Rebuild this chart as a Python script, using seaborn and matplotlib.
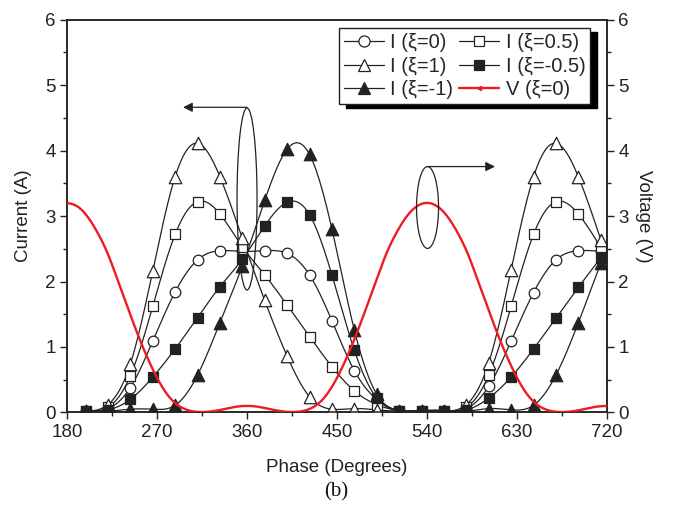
import numpy as np
import pandas as pd
import seaborn as sns
import matplotlib
matplotlib.use("Agg")
import matplotlib.pyplot as plt
from matplotlib.lines import Line2D
from matplotlib.patches import Ellipse
from matplotlib.ticker import MultipleLocator

# ---------------- data ----------------
phase = [198.5, 220.9, 243.3, 265.7, 288.1, 310.5, 332.9, 355.3, 377.7, 400.1,
         422.5, 444.9, 467.3, 489.7, 512.1, 534.5, 556.9, 579.3, 601.7, 624.1,
         646.5, 668.9, 691.3, 713.7]

i_xi_0 = [0.02, 0.06, 0.38, 1.09, 1.84, 2.33, 2.47, 2.46, 2.47, 2.43,
          2.10, 1.40, 0.64, 0.20, 0.03, 0.02, 0.02, 0.06, 0.40, 1.09,
          1.83, 2.33, 2.47, 2.46]
i_xi_05 = [0.02, 0.08, 0.56, 1.62, 2.72, 3.22, 3.03, 2.53, 2.10, 1.64,
           1.16, 0.70, 0.33, 0.12, 0.03, 0.02, 0.02, 0.08, 0.57, 1.62,
           2.72, 3.22, 3.03, 2.52]
i_xi_1 = [0.02, 0.12, 0.74, 2.16, 3.60, 4.11, 3.60, 2.66, 1.71, 0.86,
          0.24, 0.05, 0.06, 0.04, 0.02, 0.02, 0.02, 0.12, 0.76, 2.18,
          3.60, 4.11, 3.60, 2.64]
i_xi_m05 = [0.02, 0.04, 0.20, 0.54, 0.97, 1.45, 1.92, 2.34, 2.85, 3.21,
            3.02, 2.10, 0.95, 0.22, 0.03, 0.03, 0.03, 0.04, 0.22, 0.54,
            0.97, 1.44, 1.91, 2.36]
i_xi_m1 = [0.03, 0.02, 0.05, 0.05, 0.11, 0.57, 1.37, 2.24, 3.24, 4.02,
           3.94, 2.80, 1.26, 0.28, 0.03, 0.03, 0.03, 0.02, 0.06, 0.04,
           0.11, 0.57, 1.37, 2.28]

v_phase = list(range(180, 721, 10))
v_xi_0 = [3.20, 3.15, 3.00, 2.76, 2.45, 2.05, 1.63, 1.22, 0.85, 0.53,
          0.28, 0.12, 0.04, 0.01, 0.01, 0.03, 0.06, 0.09, 0.10,
          0.09, 0.06, 0.03, 0.01, 0.01, 0.04, 0.12, 0.28, 0.53, 0.85,
          1.22, 1.63, 2.05, 2.45, 2.76, 3.00, 3.15, 3.20,
          3.15, 3.00, 2.76, 2.45, 2.05, 1.63, 1.22, 0.85, 0.53, 0.28,
          0.12, 0.04, 0.01, 0.01, 0.03, 0.06, 0.09, 0.10]

x_ticks = [180, 270, 360, 450, 540, 630, 720]
y_ticks = [0, 1, 2, 3, 4, 5, 6]

labels = ["I (\u03be=0)", "I (\u03be=0.5)", "I (\u03be=1)", "I (\u03be=-0.5)",
          "I (\u03be=-1)", "V (\u03be=0)"]


def natural_spline(x, y, n_out=800):
    """Smooth connector through the data points (like Origin's spline line)."""
    x = np.asarray(x, float)
    y = np.asarray(y, float)
    n = len(x)
    h = np.diff(x)
    A = np.zeros((n, n))
    b = np.zeros(n)
    A[0, 0] = 1
    A[-1, -1] = 1
    for i in range(1, n - 1):
        A[i, i - 1] = h[i - 1]
        A[i, i] = 2 * (h[i - 1] + h[i])
        A[i, i + 1] = h[i]
        b[i] = 3 * ((y[i + 1] - y[i]) / h[i] - (y[i] - y[i - 1]) / h[i - 1])
    c = np.linalg.solve(A, b)
    bc = (y[1:] - y[:-1]) / h - h * (2 * c[:-1] + c[1:]) / 3
    d = (c[1:] - c[:-1]) / (3 * h)
    xs = np.linspace(x[0], x[-1], n_out)
    idx = np.clip(np.searchsorted(x, xs) - 1, 0, n - 2)
    dx = xs - x[idx]
    ys = y[idx] + bc[idx] * dx + c[idx] * dx ** 2 + d[idx] * dx ** 3
    return xs, ys


# ---------------- style ----------------
sns.set_theme(style="ticks")
plt.rcParams["font.family"] = ["Liberation Sans", "DejaVu Sans"]
plt.rcParams["axes.linewidth"] = 1.1
plt.rcParams["xtick.major.width"] = 1.0
plt.rcParams["ytick.major.width"] = 1.0
plt.rcParams["xtick.minor.width"] = 1.0
plt.rcParams["ytick.minor.width"] = 1.0
plt.rcParams["xtick.color"] = "#222222"
plt.rcParams["ytick.color"] = "#222222"

fig = plt.figure(figsize=(6.73, 5.14), dpi=100)
ax = fig.add_axes([0.0996, 0.1975, 0.8024, 0.7645])
ax2 = ax.twinx()

line_col = "#222222"
red = "#ed1c24"

series = [
    (i_xi_0, "o", "white", 58),
    (i_xi_05, "s", "white", 52),
    (i_xi_1, "^", "white", 80),
    (i_xi_m05, "s", line_col, 52),
    (i_xi_m1, "^", line_col, 80),
]

for vals, mk, fc, sz in series:
    xs, ys = natural_spline(phase, vals)
    sns.lineplot(x=xs, y=ys, ax=ax, color=line_col, lw=0.9, estimator=None,
                 sort=False, zorder=2)
    sns.scatterplot(x=phase, y=vals, ax=ax, marker=mk, s=sz, facecolor=fc,
                    edgecolor=line_col, linewidth=0.9, zorder=3)

vx, vy = natural_spline(v_phase, v_xi_0)
sns.lineplot(x=vx, y=vy, ax=ax2, color=red, lw=1.7,
             estimator=None, sort=False, zorder=4)

# ---------------- axes ----------------
for a in (ax, ax2):
    a.set_xlim(180, 720)
    a.set_ylim(0, 6)
    a.set_yticks(y_ticks)
    a.yaxis.set_minor_locator(MultipleLocator(0.5))
    a.tick_params(axis="y", which="major", direction="out", length=5,
                  labelsize=13.5, pad=3)
    a.tick_params(axis="y", which="minor", direction="out", length=3)
    for s in a.spines.values():
        s.set_color("#222222")
        s.set_visible(True)

ax.set_xticks(x_ticks)
ax.xaxis.set_minor_locator(MultipleLocator(45))
ax.tick_params(axis="x", which="major", direction="out", length=5,
               labelsize=13.5, pad=3)
ax.tick_params(axis="x", which="minor", direction="out", length=3)
ax.tick_params(axis="y", which="both", left=True, right=False)
ax2.tick_params(axis="y", which="both", left=False, right=True)

ax.set_xlabel("Phase (Degrees)", fontsize=13.5, labelpad=13, color="#222222")
ax.set_ylabel("Current (A)", fontsize=13.5, labelpad=10, color="#222222")
ax2.set_ylabel("Voltage (V)", fontsize=13.5, labelpad=17, rotation=-90,
               color="#222222")

# ---------------- annotations ----------------
ax2.add_patch(Ellipse((360, 3.26), 20, 2.78, fill=False, ec=line_col,
                      lw=0.9, zorder=5))
ax2.annotate("", xy=(296, 4.66), xytext=(360, 4.66),
             arrowprops=dict(arrowstyle="-|>", color=line_col, lw=0.9,
                             mutation_scale=14, shrinkA=0, shrinkB=0))
ax2.add_patch(Ellipse((540.5, 3.13), 22, 1.25, fill=False, ec=line_col,
                      lw=0.9, zorder=5))
ax2.annotate("", xy=(608, 3.755), xytext=(540.5, 3.755),
             arrowprops=dict(arrowstyle="-|>", color=line_col, lw=0.9,
                             mutation_scale=14, shrinkA=0, shrinkB=0))

# ---------------- legend ----------------
def h(mk, fc, ms):
    return Line2D([], [], color=line_col, lw=0.9, marker=mk, markersize=ms,
                  markerfacecolor=fc, markeredgecolor=line_col,
                  markeredgewidth=0.9)

handles = {
    labels[0]: h("o", "white", 8),
    labels[1]: h("s", "white", 7.5),
    labels[2]: h("^", "white", 9),
    labels[3]: h("s", line_col, 7.5),
    labels[4]: h("^", line_col, 9),
    labels[5]: Line2D([], [], color=red, lw=1.7, marker="<", markersize=3,
                      markerfacecolor=red, markeredgecolor=red),
}
order = [labels[0], labels[2], labels[4], labels[1], labels[3], labels[5]]
leg = ax2.legend([handles[k] for k in order], order, ncol=2,
                 loc="upper right", bbox_to_anchor=(0.969, 0.978),
                 fontsize=14.5, frameon=True, fancybox=False,
                 shadow={"color": "black", "alpha": 1.0, "ox": 5, "oy": -3},
                 handlelength=2.0, handletextpad=0.3, columnspacing=0.3,
                 labelspacing=0.22, borderpad=0.25, borderaxespad=0)
leg.get_frame().set_edgecolor(line_col)
leg.get_frame().set_linewidth(1.0)
leg.set_zorder(10)

fig.text(0.5, 0.044, "(b)", ha="center", va="center", fontsize=15,
         family="Liberation Serif", color="#111111")

fig.savefig("out.png", dpi=100)
